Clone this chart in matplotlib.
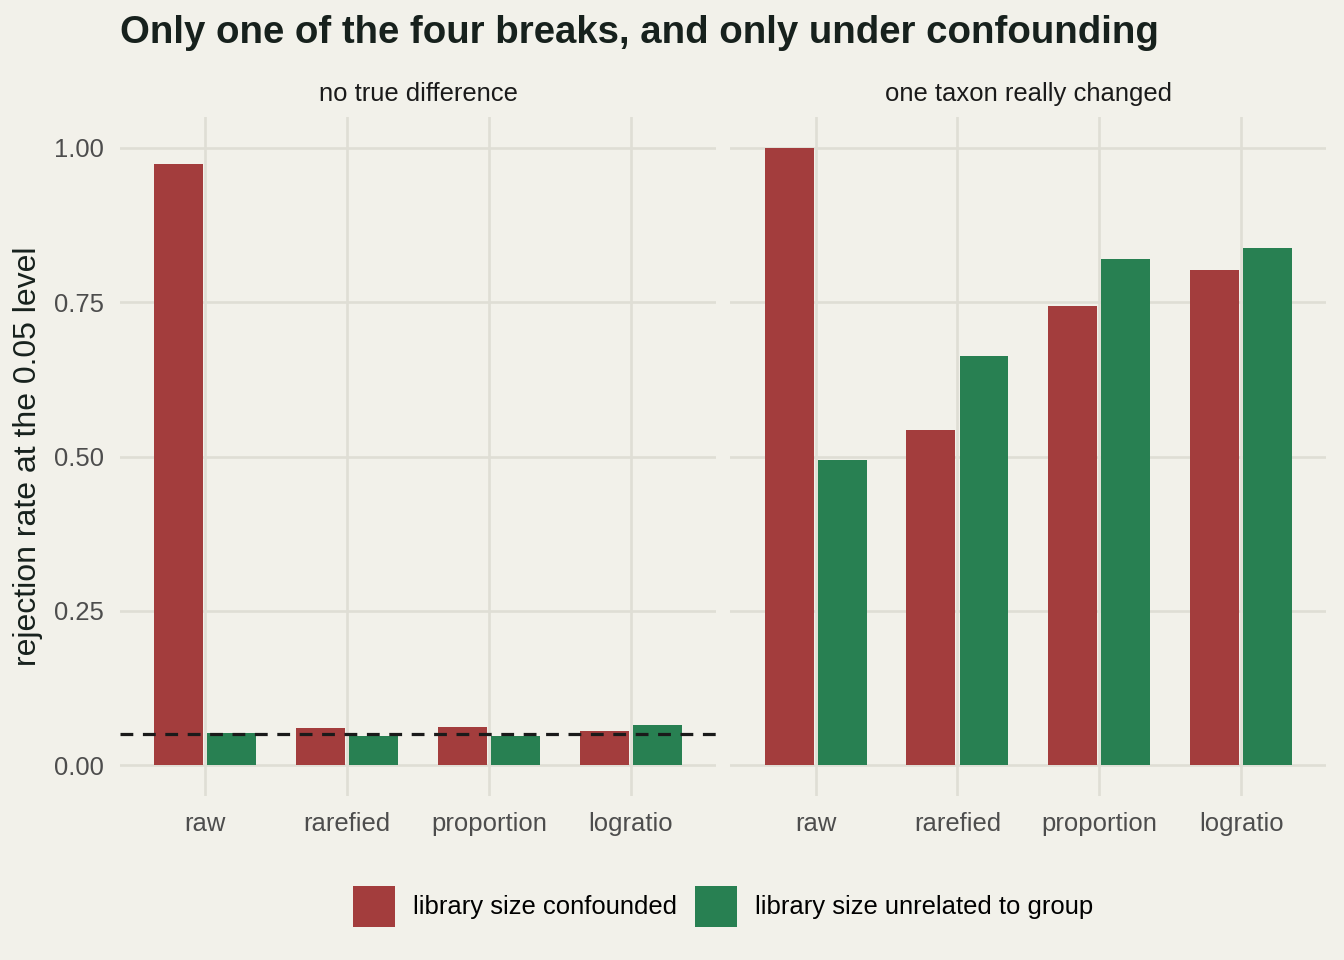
import numpy as np
import matplotlib.pyplot as plt
from matplotlib.patches import Patch

plt.rcParams['font.family'] = ['Liberation Sans', 'DejaVu Sans']

# ================== DATA ==================
methods = ['raw', 'rarefied', 'proportion', 'logratio']
panels = ['no true difference', 'one taxon really changed']
series = ['library size confounded', 'library size unrelated to group']

null_confounded = [0.974, 0.060, 0.062, 0.055]
null_unrelated = [0.052, 0.047, 0.047, 0.065]
alt_confounded = [1.000, 0.543, 0.744, 0.802]
alt_unrelated = [0.494, 0.663, 0.820, 0.838]

alpha_level = 0.05

bg = '#F2F1EA'
grid_col = '#DFDED5'
colors = ['#A33D3D', '#288052']
title_col = '#17211D'
tick_col = '#4D4D4D'

fig = plt.figure(figsize=(7, 5), dpi=192, facecolor=bg)

ax_left = fig.add_axes([0.0893, 0.1708, 0.4434, 0.7073])
ax_right = fig.add_axes([0.5435, 0.1708, 0.4434, 0.7073])

data = [(null_confounded, null_unrelated), (alt_confounded, alt_unrelated)]
x = np.arange(len(methods))
bar_w = 0.345
offset = 0.187

for i, (ax, panel) in enumerate(zip([ax_left, ax_right], panels)):
    ax.set_facecolor(bg)
    conf, unrel = data[i]
    ax.bar(x - offset, conf, width=bar_w, color=colors[0], zorder=3)
    ax.bar(x + offset, unrel, width=bar_w, color=colors[1], zorder=3)

    ax.set_xlim(-0.6, len(methods) - 0.4)
    ax.set_ylim(-0.05, 1.05)
    ax.set_xticks(x)
    ax.set_xticklabels(methods)
    ax.set_yticks([0, 0.25, 0.5, 0.75, 1.0])
    ax.set_yticklabels(['0.00', '0.25', '0.50', '0.75', '1.00'])
    ax.grid(True, color=grid_col, linewidth=1.0, zorder=0)
    ax.tick_params(length=0, labelsize=9.6, colors=tick_col, pad=6)
    ax.tick_params(axis='x', pad=6)
    for s in ax.spines.values():
        s.set_visible(False)
    ax.set_title(panel, fontsize=9.6, color='#1A1A1A', pad=6)

    if i == 0:
        ax.axhline(alpha_level, color='#1A1A1A', linestyle=(0, (4, 3)),
                   linewidth=1.2, zorder=4)
        ax.set_ylabel('rejection rate at the 0.05 level', fontsize=12,
                      color=title_col, labelpad=4)
    else:
        ax.tick_params(labelleft=False)

fig.text(0.0893, 0.966, 'Only one of the four breaks, and only under confounding',
         fontsize=14.4, fontweight='bold', color=title_col, va='center', ha='left')

handles = [Patch(facecolor=c, edgecolor='none') for c in colors]
fig.legend(handles, series, loc='center', bbox_to_anchor=(0.538, 0.056),
           ncol=2, frameon=False, fontsize=9.6, handlelength=1.65,
           handleheight=2.1, handletextpad=0.7, columnspacing=0.7)

fig.savefig('out.png', dpi=192, facecolor=bg)
